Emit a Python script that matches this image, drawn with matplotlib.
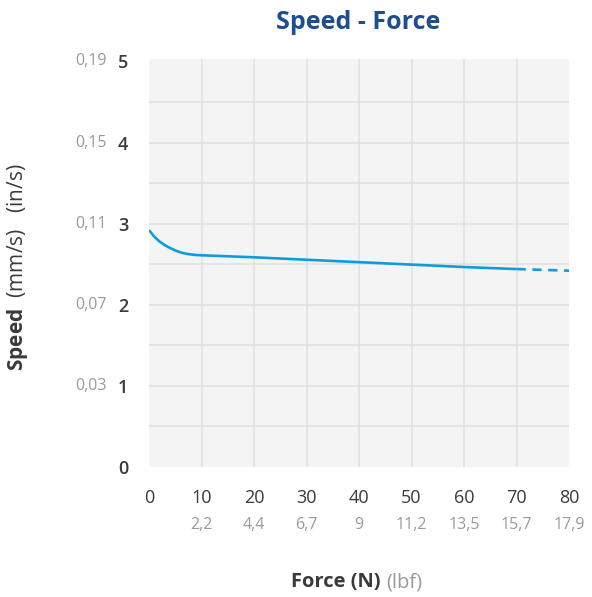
import numpy as np
import matplotlib.pyplot as plt
from matplotlib.patches import FancyBboxPatch
import matplotlib.transforms as mtransforms

plt.rcParams['font.family'] = ['Open Sans', 'DejaVu Sans']
plt.rcParams['mathtext.fontset'] = 'custom'
plt.rcParams['mathtext.bf'] = 'Open Sans:bold'
plt.rcParams['mathtext.rm'] = 'Open Sans'

# Curve (Force N -> Speed mm/s)
force_solid = [0, 1, 2, 3, 4, 5, 6, 7, 8, 9, 10, 20, 30, 40, 50, 60, 70]
speed_solid = [2.92, 2.84, 2.78, 2.735, 2.70, 2.67, 2.645, 2.63, 2.62, 2.613, 2.61,
               2.585, 2.555, 2.525, 2.495, 2.465, 2.44]
force_dash = [70, 80]
speed_dash = [2.44, 2.42]

# Axis ticks
force_ticks = [0, 10, 20, 30, 40, 50, 60, 70, 80]
lbf_labels = ["", "2,2", "4,4", "6,7", "9", "11,2", "13,5", "15,7", "17,9"]
speed_ticks = [0, 1, 2, 3, 4, 5]
ins_labels = ["", "0,03", "0,07", "0,11", "0,15", "0,19"]

dark = "#3a3a3a"
gray = "#9a9a9a"
blue = "#0d9ddf"

fig = plt.figure(figsize=(5.92, 5.97), dpi=100)
ax = fig.add_axes([0.2517, 0.2178, 0.7095, 0.6834])
ax.patch.set_visible(False)
bg = FancyBboxPatch((0, 0), 1, 1, boxstyle="round,pad=0,rounding_size=0.008",
                    transform=ax.transAxes, facecolor="#f4f4f4", edgecolor="none", zorder=0)
ax.add_patch(bg)

ax.set_xlim(0, 80)
ax.set_ylim(0, 5.03)

for x in range(10, 80, 10):
    ax.axvline(x, color="#e0e0e0", lw=1.1, zorder=1)
for y in np.arange(0.5, 5.0, 0.5):
    ax.axhline(y, color="#e0e0e0", lw=1.1, zorder=1)

ax.plot(force_solid, speed_solid, color=blue, lw=1.9, zorder=3, solid_capstyle="butt")
ax.plot(force_dash, speed_dash, color=blue, lw=1.9, zorder=3, linestyle=(0, (3.5, 2.5)))

for s in ax.spines.values():
    s.set_visible(False)
ax.tick_params(length=0)
ax.set_xticks(force_ticks)
ax.set_xticklabels([str(t) for t in force_ticks], color=dark, fontsize=13)
ax.tick_params(axis="x", pad=16)
ax.set_yticks(speed_ticks)
ax.set_yticklabels([str(t) for t in speed_ticks], color=dark, fontsize=13, fontweight="semibold")
ax.tick_params(axis="y", pad=15)

# secondary (imperial) labels
tx = mtransforms.blended_transform_factory(ax.transData, ax.transAxes)
for f, lab in zip(force_ticks, lbf_labels):
    ax.text(f, -0.142, lab, transform=tx, ha="center", va="center", color=gray, fontsize=11.5)
ty = mtransforms.blended_transform_factory(ax.transAxes, ax.transData)
for s, lab in zip(speed_ticks, ins_labels):
    ax.text(-0.1, s, lab, transform=ty, ha="right", va="center", color=gray, fontsize=11.5)

fig.text(0.605, 0.963, "Speed - Force", ha="center", va="center", color="#1f4e8c",
         fontsize=18, fontweight="bold")

# x axis title
fig.text(0.643, 0.025, "Force (N)", ha="right", va="center", color=dark, fontsize=14.5, fontweight="bold")
fig.text(0.652, 0.025, "(lbf)", ha="left", va="center", color=gray, fontsize=14.5)

# y axis title
fig.text(0.03, 0.553, r"$\mathbf{Speed}$  (mm/s)   (in/s)", ha="center", va="center",
         rotation=90, color=dark, fontsize=15)

fig.savefig("out.png", dpi=100)
